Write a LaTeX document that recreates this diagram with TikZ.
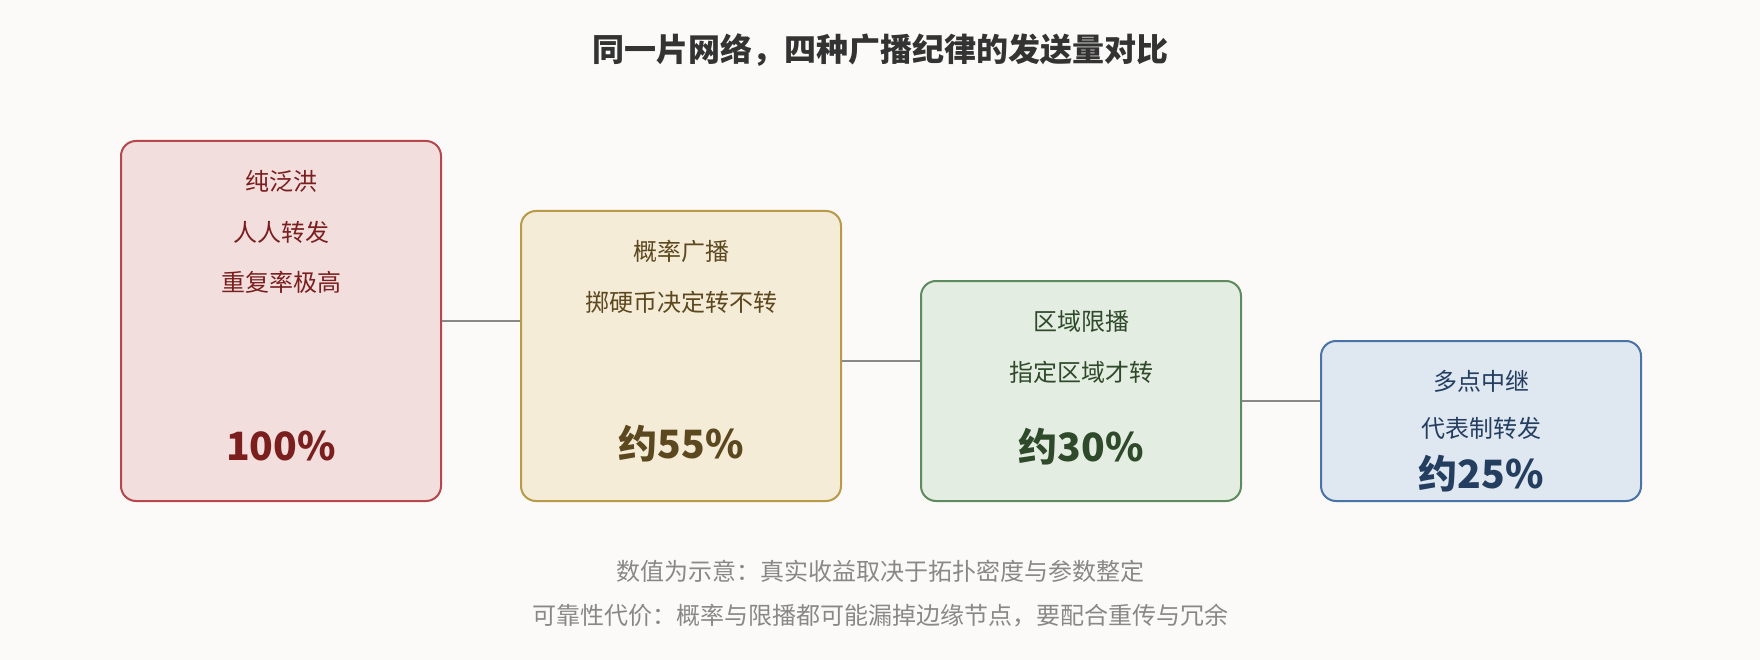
\documentclass[tikz,border=0pt]{standalone}
\usepackage{fontspec}
\setmainfont{Noto Sans CJK SC}
\usetikzlibrary{positioning}
\definecolor{bgc}{RGB}{251,250,248}
\definecolor{redfill}{RGB}{243,222,222}
\definecolor{reddraw}{RGB}{181,72,76}
\definecolor{redtext}{RGB}{122,30,30}
\definecolor{goldfill}{RGB}{245,236,216}
\definecolor{golddraw}{RGB}{184,154,72}
\definecolor{goldtext}{RGB}{92,72,30}
\definecolor{greenfill}{RGB}{228,237,225}
\definecolor{greendraw}{RGB}{94,140,94}
\definecolor{greentext}{RGB}{46,74,42}
\definecolor{bluefill}{RGB}{223,231,241}
\definecolor{bluedraw}{RGB}{74,116,168}
\definecolor{bluetext}{RGB}{36,62,96}
\definecolor{linkc}{RGB}{136,136,136}

\begin{document}
\begin{tikzpicture}[x=1pt,y=-1pt]
	\tikzset{box/.style={draw, shape=rectangle, rounded corners=15pt, line width=2pt,
			minimum width=320pt, anchor=north west, inner sep=0pt},
		lbl/.style={font=\fontsize{24}{28}\selectfont, inner sep=0pt},
		num/.style={font=\fontsize{39}{45}\selectfont\bfseries, inner sep=0pt},
		note/.style={font=\fontsize{24}{28}\selectfont, text=linkc, inner sep=0pt},
		link/.style={draw=linkc, line width=2pt}
	}
	\fill[bgc] (0,0) rectangle (1760,660);
	\node[font=\fontsize{32}{38}\selectfont\bfseries, text={rgb,255:red,51;green,51;blue,51}] (title) at (880,50) {同一片网络，四种广播纪律的发送量对比};
	% the four boxes
	\node[box, fill=redfill, draw=reddraw, minimum height=360pt] (b1) at (120,140) {};
	\node[box, fill=goldfill, draw=golddraw, minimum height=290pt] (b2) at (520,210) {};
	\node[box, fill=greenfill, draw=greendraw, minimum height=220pt] (b3) at (920,280) {};
	\node[box, fill=bluefill, draw=bluedraw, minimum height=160pt] (b4) at (1320,340) {};
	% texts
	\node[lbl, text=redtext, below=41pt of b1.north, anchor=center] (t11) {纯泛洪};
	\node[lbl, text=redtext, below=51pt of t11.center, anchor=center] (t12) {人人转发};
	\node[lbl, text=redtext, below=50pt of t12.center, anchor=center] (t13) {重复率极高};
	\node[num, text=redtext, above=56pt of b1.south, anchor=center] (n1) {100\%};
	\node[lbl, text=goldtext, below=41pt of b2.north, anchor=center] (t21) {概率广播};
	\node[lbl, text=goldtext, below=51pt of t21.center, anchor=center] (t22) {掷硬币决定转不转};
	\node[num, text=goldtext, above=58pt of b2.south, anchor=center] (n2) {约55\%};
	\node[lbl, text=greentext, below=41pt of b3.north, anchor=center] (t31) {区域限播};
	\node[lbl, text=greentext, below=51pt of t31.center, anchor=center] (t32) {指定区域才转};
	\node[num, text=greentext, above=55pt of b3.south, anchor=center] (n3) {约30\%};
	\node[lbl, text=bluetext, below=41pt of b4.north, anchor=center] (t41) {多点中继};
	\node[lbl, text=bluetext, below=47pt of t41.center, anchor=center] (t42) {代表制转发};
	\node[num, text=bluetext, above=28pt of b4.south, anchor=center] (n4) {约25\%};
	% connectors
	\draw[link] (b1.east) -- (b1.east -| b2.west);
	\draw[link] ([yshift=-5pt]b2.east) -- ([yshift=-5pt]b2.east -| b3.west);
	\draw[link] ([yshift=-10pt]b3.east) -- ([yshift=-10pt]b3.east -| b4.west);
	% footnotes
	\node[note] (f1) at (880,571) {数值为示意：真实收益取决于拓扑密度与参数整定};
	\node[note, below=45pt of f1.center, anchor=center] (f2) {可靠性代价：概率与限播都可能漏掉边缘节点，要配合重传与冗余};
\end{tikzpicture}
\end{document}
